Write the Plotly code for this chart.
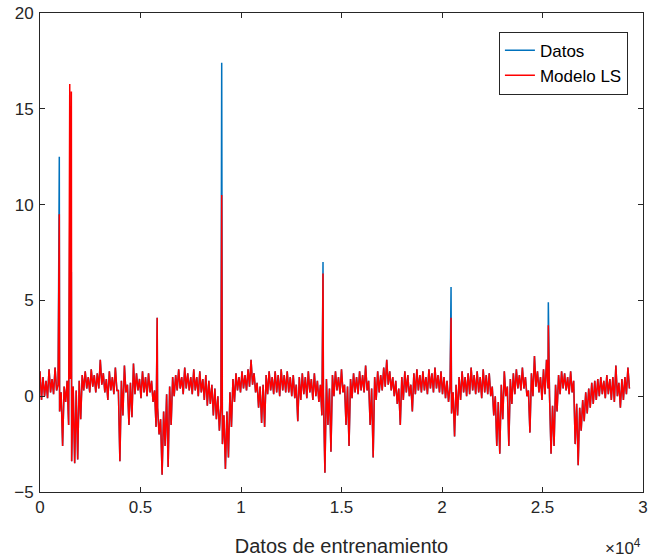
import plotly.graph_objects as go

# Muestreo de la banda (cada 150 muestras): envolvente alta y baja
paso = 150
banda_alta = [
    1.3, 1.0, 0.8, 1.4, 0.9, 1.5, 0.6, 0.2, 0.5, 0.8,
    0.9, 0.5, 0.3, 0.8, 1.1, 1.3, 1.0, 1.4, 1.1, 1.2,
    1.9, 1.2, 0.9, 1.3, 1.0, 1.5, 0.3, 0.8, 1.6, 0.6,
    0.7, 1.7, 1.2, 0.9, 1.3, 1.0, 1.2, 0.8, 0.3, -0.6,
    -1.2, -0.8, 0.1, 0.5, 1.0, 1.1, 1.4, 1.0, 1.5, 1.2,
    1.0, 1.4, 1.0, 1.3, 0.9, 1.1, 0.8, 0.6, 0.4, 0.0,
    -0.5, -1.0, -0.8, 0.2, 0.9, 1.2, 1.0, 1.3, 1.1, 1.4,
    1.9, 1.2, 0.7, 0.5, 0.6, 1.1, 1.3, 1.0, 1.3, 1.1,
    1.4, 1.1, 1.3, 1.0, 1.1, 0.6, 1.0, 1.2, 1.0, 1.3,
    0.9, 1.2, 0.8, 0.6, 0.2, 0.9, 0.4, 1.1, 1.3, 1.0,
    1.4, 0.6, 0.5, 0.9, 1.2, 1.0, 1.3, 1.1, 1.6, 0.8,
    0.4, 1.0, 1.3, 1.1, 1.5, 1.9, 1.3, 1.0, 0.8, 0.4,
    1.0, 1.3, 1.1, 0.6, 1.2, 1.4, 1.1, 1.3, 1.0, 1.4,
    1.2, 1.5, 1.1, 1.3, 1.0, 0.8, 0.5, 0.2, 0.6, 1.0,
    1.3, 1.0, 1.2, 1.5, 1.1, 1.3, 1.0, 1.4, 1.1, 1.2,
    0.5, 0.0, -0.3, 0.6, 1.3, 0.5, 0.9, 1.2, 1.4, 1.1,
    1.5, 1.0, 0.3, 1.2, 2.1, 1.3, 1.0, 1.4, 1.9, 0.0,
    -0.5, 0.6, 1.1, 1.3, 1.2, 1.0, 1.3, 0.8, -0.4, -0.6,
    -0.2, 0.2, 0.4, 0.7, 0.8, 0.9, 1.0, 0.8, 1.1, 0.9,
    1.0, 1.6, 0.7, 0.9, 1.0, 1.5,
]
banda_baja = [
    -0.2, 0.0, -0.1, 0.2, 0.1, 0.3, -0.8, -2.6, -0.3, -1.5,
    -3.4, -3.5, -3.3, -1.2, 0.3, 0.4, 0.2, 0.5, 0.2, 0.4,
    0.6, 0.2, -0.2, 0.3, 0.1, 0.3, -3.4, -1.0, 0.2, -1.5,
    -1.1, 0.1, 0.3, -0.1, 0.2, 0.0, 0.2, -0.3, -1.6, -2.0,
    -4.1, -2.6, -3.7, -1.5, 0.0, 0.3, 0.4, 0.1, 0.4, 0.3,
    0.1, 0.3, 0.0, 0.2, -0.2, -0.5, -0.4, -1.0, -1.2, -1.8,
    -2.5, -3.8, -3.2, -1.6, -0.3, 0.3, 0.2, 0.4, 0.3, 0.5,
    0.6, 0.2, -0.6, -1.4, -1.6, 0.1, 0.3, 0.1, 0.2, 0.0,
    0.3, 0.2, 0.2, 0.0, -0.1, -1.3, -0.2, 0.1, -0.1, 0.2,
    -0.2, 0.0, -0.3, -1.0, -4.0, -1.5, -2.9, 0.0, 0.3, 0.1,
    0.2, -1.5, -2.6, -0.1, 0.2, 0.1, 0.3, 0.2, 0.3, -1.5,
    -3.2, -0.2, 0.2, 0.3, 0.5, 0.6, 0.3, 0.0, -0.4, -1.5,
    -0.2, 0.2, 0.0, -0.8, 0.1, 0.3, 0.2, 0.3, 0.1, 0.4,
    0.2, 0.4, 0.2, 0.1, -0.1, -0.3, -0.9, -2.1, -1.0, -0.2,
    0.2, 0.0, 0.1, 0.3, 0.1, 0.2, -0.1, 0.2, 0.1, 0.0,
    -1.0, -2.6, -3.0, -1.2, 0.0, -2.6, -0.4, 0.1, 0.4, 0.3,
    0.4, 0.0, -1.9, 0.0, 0.5, 0.2, -0.2, 0.1, 0.4, -3.0,
    -2.6, -0.8, 0.1, 0.4, 0.3, 0.1, 0.2, -2.5, -3.6, -1.8,
    -1.3, -0.9, -0.6, -0.4, -0.2, 0.0, 0.1, -0.1, 0.1, -0.2,
    -0.3, 0.0, -0.6, -0.2, 0.1, 0.4,
]

# Picos aislados (posición en muestras y altura de cada serie)
picos_x = [960, 1480, 1560, 5830, 9040, 14080, 20450, 25290]
picos_datos = [12.5, 9.2, 6.5, 4.1, 17.4, 7.0, 5.7, 4.9]
picos_modelo = [9.5, 16.3, 15.9, 4.1, 10.5, 6.4, 4.1, 3.7]

x_ticks = [0, 5000, 10000, 15000, 20000, 25000, 30000]
x_tick_labels = ["0", "0.5", "1", "1.5", "2", "2.5", "3"]
y_ticks = [-5, 0, 5, 10, 15, 20]

FONT = "Liberation Sans, Arial"
TXT = "#262626"


def construir(picos):
    pts = []
    for i, (a, b) in enumerate(zip(banda_alta, banda_baja)):
        pts.append((i * paso, a))
        pts.append((i * paso + paso / 2, b))
    pts += list(zip(picos_x, picos))
    pts.sort(key=lambda p: p[0])
    return [p[0] for p in pts], [p[1] for p in pts]


xd, yd = construir(picos_datos)
xm, ym = construir(picos_modelo)

fig = go.Figure()
fig.add_trace(go.Scatter(x=xd, y=yd, mode="lines", name="Datos",
                         line=dict(color="#0072BD", width=1.5)))
fig.add_trace(go.Scatter(x=xm, y=ym, mode="lines", name="Modelo LS",
                         line=dict(color="#FF0000", width=1.5)))

axis_common = dict(showline=True, linecolor=TXT, linewidth=1, mirror="ticks",
                   ticks="inside", ticklen=5, tickcolor=TXT, showgrid=False,
                   zeroline=False, tickfont=dict(family=FONT, size=17, color=TXT))
fig.update_xaxes(range=[0, 30000], tickvals=x_ticks, ticktext=x_tick_labels,
                 title=dict(text="Datos de entrenamiento", standoff=22,
                            font=dict(family=FONT, size=20, color=TXT)),
                 **axis_common)
fig.update_yaxes(range=[-5, 20], tickvals=y_ticks, ticklabelstandoff=2, **axis_common)

fig.add_annotation(text="×10<sup>4</sup>", xref="paper", yref="paper", x=1.0, y=-0.088,
                   xanchor="right", yanchor="top", showarrow=False,
                   font=dict(family=FONT, size=17, color=TXT))

fig.update_layout(
    width=652, height=558,
    margin=dict(l=40, r=4, t=11, b=66),
    plot_bgcolor="white", paper_bgcolor="white",
    showlegend=True,
    legend=dict(x=0.975, y=0.961, xanchor="right", yanchor="top",
                bgcolor="white", bordercolor=TXT, borderwidth=1,
                font=dict(family=FONT, size=17, color="#000000"),
                tracegroupgap=0),
)

fig.write_html("out.html")
